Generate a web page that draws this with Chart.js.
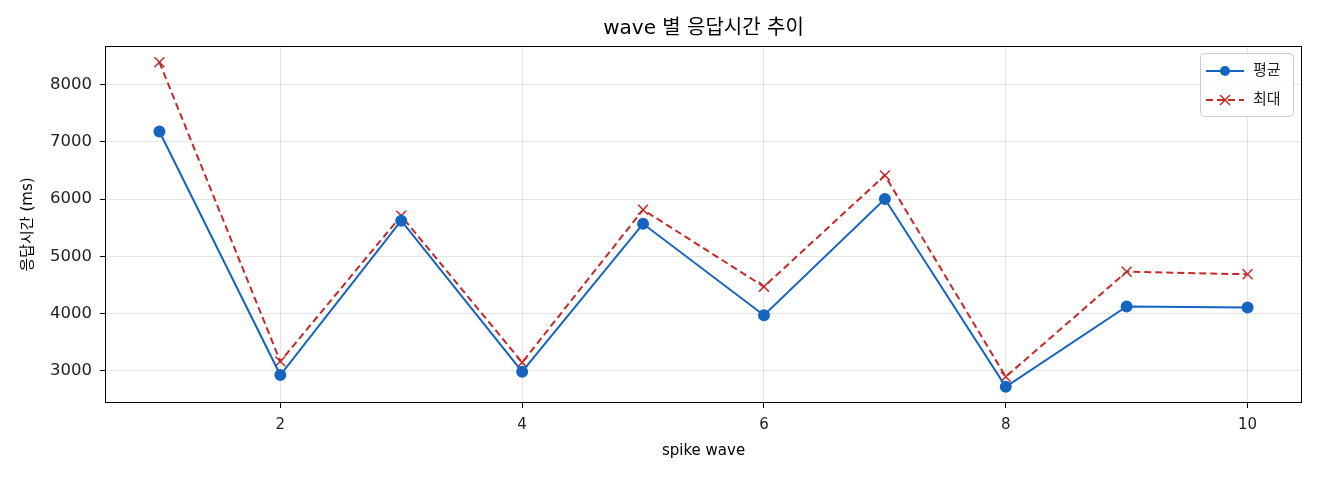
<!DOCTYPE html>
<html>
<head>
<meta charset="utf-8">
<script src="https://cdn.jsdelivr.net/npm/chart.js@4.4.1/dist/chart.umd.min.js"></script>
<style>
  html, body { margin: 0; padding: 0; background: #fff; }
  #wrap { width: 1320px; height: 480px; }
</style>
</head>
<body>
<div id="wrap"><canvas id="graph"></canvas></div>
<script>
const waves = [1, 2, 3, 4, 5, 6, 7, 8, 9, 10];
const avgTimes = [7180, 2925, 5621, 2983, 5568, 3970, 6000, 2720, 4123, 4105];
const maxTimes = [8390, 3163, 5708, 3145, 5813, 4469, 6413, 2895, 4730, 4685];
const xTicks = [2, 4, 6, 8, 10];
const yTicks = [3000, 4000, 5000, 6000, 7000, 8000];
const titleText = 'wave 별 응답시간 추이';

const FONT = "'DejaVu Sans', 'Noto Sans CJK KR', sans-serif";
const ctx = document.getElementById('graph');

function toPoints(vals) {
  return waves.map((w, i) => ({ x: w, y: vals[i] }));
}

// axes box on all four sides + title centred over the axes, like matplotlib
const boxPlugin = {
  id: 'box',
  afterDatasetsDraw(chart) {
    const a = chart.chartArea;
    const c = chart.ctx;
    c.save();
    c.strokeStyle = '#000';
    c.lineWidth = 1;
    c.strokeRect(a.left + 0.5, a.top + 0.5, a.right - a.left - 1, a.bottom - a.top - 1);
    c.fillStyle = '#000';
    c.font = '20px ' + FONT;
    c.textAlign = 'center';
    c.textBaseline = 'middle';
    c.fillText(titleText, (a.left + a.right) / 2, 29);
    c.restore();
  }
};

// legend inside the plot, top right
const innerLegend = {
  id: 'innerLegend',
  afterDraw(chart) {
    const c = chart.ctx;
    const a = chart.chartArea;
    const w = 93, h = 63;
    const x = a.right - 9 - w, y = a.top + 7;
    c.save();
    c.fillStyle = 'rgba(255,255,255,0.85)';
    c.strokeStyle = '#cccccc';
    c.lineWidth = 1;
    c.beginPath();
    c.roundRect(x + 0.5, y + 0.5, w, h, 4);
    c.fill();
    c.stroke();

    chart.data.datasets.forEach((ds, i) => {
      const ly = y + 18 + i * 29;
      c.strokeStyle = ds.borderColor;
      c.lineWidth = 2;
      c.setLineDash(ds.borderDash || []);
      c.beginPath();
      c.moveTo(x + 6, ly);
      c.lineTo(x + 44, ly);
      c.stroke();
      c.setLineDash([]);
      const mx = x + 25;
      if (ds.pointStyle === 'circle') {
        c.fillStyle = ds.pointBackgroundColor;
        c.beginPath();
        c.arc(mx, ly, 5, 0, Math.PI * 2);
        c.fill();
      } else {
        c.strokeStyle = ds.pointBorderColor;
        c.lineWidth = 1.5;
        c.beginPath();
        c.moveTo(mx - 5, ly - 5); c.lineTo(mx + 5, ly + 5);
        c.moveTo(mx - 5, ly + 5); c.lineTo(mx + 5, ly - 5);
        c.stroke();
      }
      c.fillStyle = '#222';
      c.font = '15px ' + FONT;
      c.textBaseline = 'middle';
      c.fillText(ds.label, x + 53, ly);
    });
    c.restore();
  }
};

const graph = new Chart(ctx, {
  type: 'line',
  data: {
    datasets: [{
      label: '평균',
      data: toPoints(avgTimes),
      borderColor: '#1565c0',
      backgroundColor: '#1565c0',
      pointBackgroundColor: '#1565c0',
      pointBorderColor: '#1565c0',
      pointStyle: 'circle',
      pointRadius: 5,
      borderWidth: 2,
      tension: 0
    }, {
      label: '최대',
      data: toPoints(maxTimes),
      borderColor: '#c62828',
      backgroundColor: '#c62828',
      pointBackgroundColor: '#c62828',
      pointBorderColor: '#c62828',
      pointStyle: 'cross',
      rotation: 45,
      pointRadius: 7,
      pointBorderWidth: 1.5,
      borderWidth: 2,
      borderDash: [7, 4],
      tension: 0
    }]
  },
  options: {
    responsive: true,
    maintainAspectRatio: false,
    animation: false,
    layout: { padding: { left: 0, right: 18, top: 46, bottom: 0 } },
    plugins: {
      legend: { display: false },
      tooltip: { enabled: false },
      title: { display: false }
    },
    scales: {
      x: {
        type: 'linear',
        min: 0.55,
        max: 10.45,
        afterBuildTicks: (s) => { s.ticks = xTicks.map(v => ({ value: v })); },
        afterFit: (s) => { s.height = 77; },
        grid: { color: 'rgba(0,0,0,0.1)', tickColor: '#000', tickLength: 5 },
        border: { display: false },
        ticks: { color: '#222', padding: 8, font: { family: FONT, size: 15 } },
        title: {
          display: true,
          text: 'spike wave',
          color: '#000',
          font: { family: FONT, size: 15 },
          padding: { top: 20, bottom: 20 }
        }
      },
      y: {
        min: 2436,
        max: 8674,
        afterBuildTicks: (s) => { s.ticks = yTicks.map(v => ({ value: v })); },
        afterFit: (s) => { s.width = 105; },
        grid: { color: 'rgba(0,0,0,0.1)', tickColor: '#000', tickLength: 5 },
        border: { display: false },
        ticks: {
          color: '#222',
          padding: 8,
          font: { family: FONT, size: 16.5 },
          callback: (v) => String(v)
        },
        title: {
          display: true,
          text: '응답시간 (ms)',
          color: '#000',
          font: { family: FONT, size: 15 },
          padding: { top: 19, bottom: 19 }
        }
      }
    }
  },
  plugins: [boxPlugin, innerLegend]
});
</script>
</body>
</html>
